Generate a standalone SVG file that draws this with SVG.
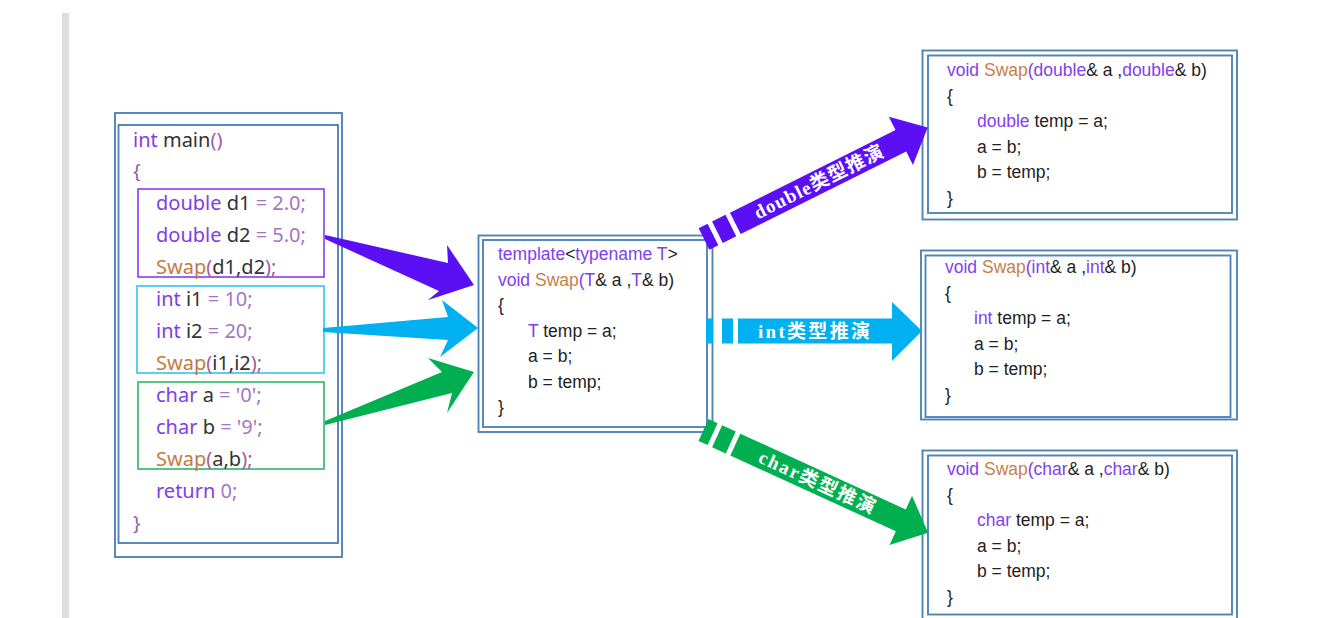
<svg xmlns="http://www.w3.org/2000/svg" width="1326" height="618" viewBox="0 0 1326 618">
<style>
.frame{fill:none;stroke:#4f84b8;stroke-width:1.9}
.code1{font-family:"Noto Sans","Open Sans",sans-serif;font-size:20px;fill:#333}
.code2{font-family:"Liberation Sans",Arial,sans-serif;font-size:17.5px;fill:#222}
.k{fill:#7f3ce8}
.n{fill:#a476c4}
.f{fill:#c47a44}
.b{fill:#a0609e}
.k2{fill:#8040f0}
.f2{fill:#c8804a}
.lbl{font-family:"Liberation Serif","Noto Sans CJK SC",serif;font-weight:bold;font-size:19px;fill:#ffffff}
</style>
<rect x="62" y="13" width="7" height="605" fill="#dddddd"/>

<g id="main">
<rect class="frame" x="115" y="113" width="227" height="444"/>
<rect class="frame" x="118.5" y="125" width="219.5" height="418"/>
<rect x="138" y="189" width="186" height="88" fill="none" stroke="#8a3cf0" stroke-width="1.6"/>
<rect x="137" y="286" width="187" height="87" fill="none" stroke="#33c3f0" stroke-width="1.6"/>
<rect x="138" y="382" width="186" height="87" fill="none" stroke="#2ab866" stroke-width="1.6"/>
<text class="code1" x="133" y="147"><tspan class="k">int</tspan> main<tspan class="b">()</tspan></text>
<text class="code1 b" x="133" y="178">{</text>
<text class="code1" x="156" y="210"><tspan class="k">double</tspan> d1 <tspan class="n">= 2.0;</tspan></text>
<text class="code1" x="156" y="242"><tspan class="k">double</tspan> d2 <tspan class="n">= 5.0;</tspan></text>
<text class="code1" x="156" y="274"><tspan class="f">Swap</tspan><tspan class="b">(</tspan>d1,d2<tspan class="b">);</tspan></text>
<text class="code1" x="156" y="306"><tspan class="k">int</tspan> i1 <tspan class="n">= 10;</tspan></text>
<text class="code1" x="156" y="338"><tspan class="k">int</tspan> i2 <tspan class="n">= 20;</tspan></text>
<text class="code1" x="156" y="370"><tspan class="f">Swap</tspan><tspan class="b">(</tspan>i1,i2<tspan class="b">);</tspan></text>
<text class="code1" x="156" y="402"><tspan class="k">char</tspan> a <tspan class="n">= '0';</tspan></text>
<text class="code1" x="156" y="434"><tspan class="k">char</tspan> b <tspan class="n">= '9';</tspan></text>
<text class="code1" x="156" y="466"><tspan class="f">Swap</tspan><tspan class="b">(</tspan>a,b<tspan class="b">);</tspan></text>
<text class="code1" x="156" y="498"><tspan class="k">return</tspan> <tspan class="n">0;</tspan></text>
<text class="code1 b" x="133" y="530">}</text>
</g>

<g id="template">
<rect class="frame" x="478.5" y="235.5" width="234" height="196.5"/>
<rect class="frame" x="483" y="240" width="224" height="187"/>
<text class="code2" x="498" y="260"><tspan class="k2">template</tspan>&lt;<tspan class="k2">typename T</tspan>&gt;</text>
<text class="code2" x="498" y="285.5"><tspan class="k2">void</tspan> <tspan class="f2">Swap</tspan><tspan class="k2">(T</tspan>&amp; a ,<tspan class="k2">T</tspan>&amp; b)</text>
<text class="code2" x="498" y="311">{</text>
<text class="code2" x="528" y="336.5"><tspan class="k2">T</tspan> temp = a;</text>
<text class="code2" x="528" y="362">a = b;</text>
<text class="code2" x="528" y="387.5">b = temp;</text>
<text class="code2" x="498" y="413">}</text>
</g>

<g id="swap-double">
<rect class="frame" x="922.5" y="50.5" width="314.5" height="169"/>
<rect class="frame" x="928" y="55.5" width="304" height="157.5"/>
<text class="code2" x="947" y="76"><tspan class="k2">void</tspan> <tspan class="f2">Swap</tspan><tspan class="k2">(double</tspan>&amp; a ,<tspan class="k2">double</tspan>&amp; b)</text>
<text class="code2" x="947" y="101.5">{</text>
<text class="code2" x="977" y="127"><tspan class="k2">double</tspan> temp = a;</text>
<text class="code2" x="977" y="152.5">a = b;</text>
<text class="code2" x="977" y="178">b = temp;</text>
<text class="code2" x="947" y="203.5">}</text>
</g>

<g id="swap-int">
<rect class="frame" x="921" y="250.5" width="316" height="169"/>
<rect class="frame" x="925.5" y="255.5" width="305" height="161.5"/>
<text class="code2" x="945" y="273"><tspan class="k2">void</tspan> <tspan class="f2">Swap</tspan><tspan class="k2">(int</tspan>&amp; a ,<tspan class="k2">int</tspan>&amp; b)</text>
<text class="code2" x="945" y="298.5">{</text>
<text class="code2" x="974" y="324"><tspan class="k2">int</tspan> temp = a;</text>
<text class="code2" x="974" y="349.5">a = b;</text>
<text class="code2" x="974" y="375">b = temp;</text>
<text class="code2" x="945" y="400.5">}</text>
</g>

<g id="swap-char">
<rect class="frame" x="922.5" y="450.5" width="314.5" height="170"/>
<rect class="frame" x="928" y="455.5" width="304" height="159"/>
<text class="code2" x="947" y="475"><tspan class="k2">void</tspan> <tspan class="f2">Swap</tspan><tspan class="k2">(char</tspan>&amp; a ,<tspan class="k2">char</tspan>&amp; b)</text>
<text class="code2" x="947" y="500.5">{</text>
<text class="code2" x="977" y="526"><tspan class="k2">char</tspan> temp = a;</text>
<text class="code2" x="977" y="551.5">a = b;</text>
<text class="code2" x="977" y="577">b = temp;</text>
<text class="code2" x="947" y="602.5">}</text>
</g>

<g id="connectors">
<polygon fill="#5a0ff5" points="325,235 448,263 447,245 474,285 428,300 439,291 325,239"/>
<polygon fill="#00b0f0" points="323,328 448,317 442,300 478,328 440,357 448,340 323,332"/>
<polygon fill="#00b050" points="325,421 442,372 428,358 474,372 447,413 452,393 325,425"/>

<g transform="translate(704,239) rotate(-26.5)">
<g fill="#5a0ff5">
<rect x="0" y="-12" width="10" height="24"/>
<rect x="15" y="-12" width="15" height="24"/>
<polygon points="35,-12 220,-12 220,-27 250,0 220,27 220,12 35,12"/>
</g>
<text class="lbl" x="128" y="6.5" text-anchor="middle" textLength="142" lengthAdjust="spacing">double类型推演</text>
</g>

<g fill="#00b0f0">
<rect x="706" y="318.5" width="7" height="25"/>
<rect x="722" y="318.5" width="11" height="25"/>
<polygon points="738,318.5 892,318.5 892,302 922,331 892,361 892,343.5 738,343.5"/>
</g>
<text class="lbl" x="814" y="337.5" text-anchor="middle" textLength="112" lengthAdjust="spacing">int类型推演</text>

<g transform="translate(703.5,430) rotate(24.6)">
<g fill="#00b050">
<rect x="0" y="-12" width="10" height="24"/>
<rect x="15" y="-12" width="15" height="24"/>
<polygon points="35,-12 217,-12 217,-27 247,0 217,27 217,12 35,12"/>
</g>
<text class="lbl" x="125" y="6.5" text-anchor="middle" textLength="126" lengthAdjust="spacing">char类型推演</text>
</g>
</g>
</svg>
